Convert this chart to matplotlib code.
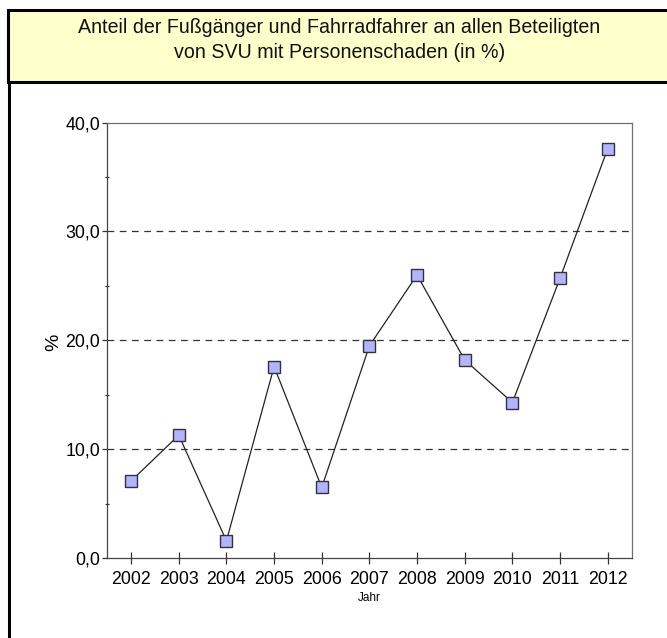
import matplotlib.pyplot as plt
from matplotlib.patches import Rectangle
from matplotlib.lines import Line2D
from matplotlib.ticker import FixedLocator, FuncFormatter

# Share of pedestrians and cyclists among all parties in accidents with injuries
years = [2002, 2003, 2004, 2005, 2006, 2007, 2008, 2009, 2010, 2011, 2012]
share = [7.1, 11.3, 1.6, 17.6, 6.5, 19.5, 26.0, 18.2, 14.3, 25.7, 37.6]
y_major = [0, 10, 20, 30, 40]
y_minor = [5, 15, 25, 35]

title = ('Anteil der Fußgänger und Fahrradfahrer an allen Beteiligten\n'
         'von SVU mit Personenschaden (in %)')

font = 'Liberation Sans'
W, H = 667, 638

fig = plt.figure(figsize=(W / 100, H / 100), dpi=100)

# Header box with the title
fig.patches.append(Rectangle((8 / W, 1 - 82 / H), 1.0, 72 / H, transform=fig.transFigure,
                             facecolor='#FFFFCC', edgecolor='black', linewidth=2.2))
fig.text(339.5 / W, 1 - 40 / H, title, ha='center', va='center', fontsize=14.1,
         family=font, linespacing=1.45, color='#111111')

# Left frame edge below the header
fig.lines.append(Line2D([9 / W, 9 / W], [0, 1 - 82 / H], transform=fig.transFigure,
                        color='black', linewidth=2.2))

ax = fig.add_axes([107.3 / W, 1 - 558.3 / H, (631.5 - 107.3) / W, (558.3 - 122.5) / H])

ax.plot(years, share, color='#222222', linewidth=0.9, marker='s', markersize=8.6,
        markerfacecolor='#B3B3FF', markeredgecolor='#333333', markeredgewidth=1.0, zorder=3)

ax.set_xlim(2001.5, 2012.5)
ax.set_ylim(0, 40)
ax.set_xticks(years)
ax.set_xticklabels([str(y) for y in years], family=font, fontsize=12.8)
ax.yaxis.set_major_locator(FixedLocator(y_major))
ax.yaxis.set_minor_locator(FixedLocator(y_minor))
ax.yaxis.set_major_formatter(FuncFormatter(lambda v, p: f'{v:.1f}'.replace('.', ',')))
for lab in ax.get_yticklabels():
    lab.set_family(font)
    lab.set_fontsize(12.8)

ax.tick_params(axis='x', direction='inout', length=8.6, width=0.9, color='#333333', pad=5)
ax.tick_params(axis='y', which='major', direction='out', length=3.6, width=0.9, color='#333333', pad=1.5)
ax.tick_params(axis='y', which='minor', direction='inout', length=3.4, width=0.9, color='#333333')

# Dashed horizontal guides
for v in y_major[1:-1]:
    ax.axhline(v, color='#333333', linewidth=0.9, linestyle=(0, (5.4, 4.4)), zorder=1)

for side in ['left', 'bottom']:
    ax.spines[side].set_color('#444444')
    ax.spines[side].set_linewidth(0.9)
for side in ['top', 'right']:
    ax.spines[side].set_color('#707070')
    ax.spines[side].set_linewidth(0.9)

fig.text(54 / W, 1 - 342 / H, '%', rotation=90, ha='center', va='center', fontsize=14,
         family=font)
fig.text(369 / W, 1 - 598 / H, 'Jahr', ha='center', va='center', fontsize=8.5,
         family=font)

fig.savefig('out.png', dpi=100)
